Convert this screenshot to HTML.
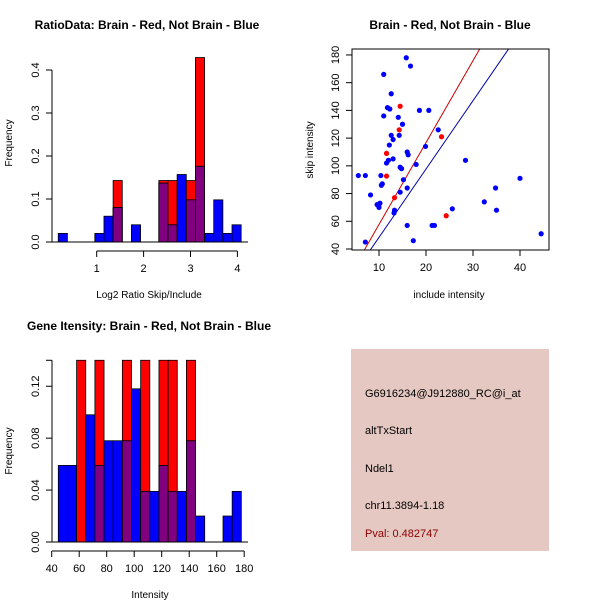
<!DOCTYPE html>
<html><head><meta charset="utf-8"><style>
body{margin:0;background:#fff;}
svg{display:block;font-family:"Liberation Sans",Arial,sans-serif;}
</style></head><body>
<svg id="c" width="600" height="600" viewBox="0 0 600 600">
<rect x="351" y="349" width="198" height="202" fill="#e5c8c2"/>
<g font-size="11">
<text x="365" y="397" fill="#000">G6916234@J912880_RC@i_at</text>
<text x="365" y="434" fill="#000">altTxStart</text>
<text x="365" y="472" fill="#000">Ndel1</text>
<text x="365" y="509" fill="#000">chr11.3894-1.18</text>
<text x="365" y="537" fill="#8b0000">Pval: 0.482747</text>
</g>
</svg>
<script>
// Ratio histogram data
const ratioBreakStart = 0.18, ratioBinW = 0.195;
const ratioRed = [0,0,0,0,0,0,0.143,0,0,0,0,0.143,0.143,0,0.143,0.429,0,0,0,0];
const ratioBlue = [0.02,0,0,0,0.02,0.06,0.08,0,0.04,0,0,0.137,0.04,0.157,0.098,0.176,0.02,0.098,0.02,0.04];
const ratioYTicks = [0,0.1,0.2,0.3,0.4];
const ratioXTicks = [1,2,3,4];
// Gene intensity histogram data
const geneBreakStart = 44.8, geneBinW = 6.655;
const geneRed = [0,0,0.14,0,0.14,0,0,0.14,0,0.14,0,0.14,0.14,0,0.14,0,0,0,0,0];
const geneBlue = [0.059,0.059,0,0.098,0.059,0.078,0.078,0.078,0.118,0.039,0.039,0.059,0.039,0.039,0.078,0.02,0,0,0.02,0.039];
const geneYTicks = [0,0.04,0.08,0.12];
const geneXTicks = [40,60,80,100,120,140,160,180];
// Scatter data
const blueX = [5.6,7.1,7.1,8.2,9.6,10,10.2,10.4,10.5,10.7,11,11,11.8,12.3,12.6,12.6,12.2,11.6,12,13,13,13.3,13.2,14.1,14.3,14.5,14.8,14.5,15,15.2,15.8,16.7,16,16.2,16,16,17.3,17.9,18.6,19.9,20.6,21.3,21.8,22.6,25.6,28.4,32.4,34.8,35,40,44.5];
const blueY = [93,93,45,79,72,70,73,93,86,87,166,136,142,141,152,122,115,102,104,105,119,68,66,135,122,99,98,81,130,90,178,172,110,108,84,57,46,101,140,114,140,57,57,126,69,104,74,84,68,91,51];
const redX = [11.6,11.6,13.3,14.5,14.3,23.3,24.3];
const redY = [109,92.6,77,143,126,121,64];
const lineIntercepts = [-1.4,-0.9];
const lineSlopes = [5.91,4.93];
const scatterXTicks = [10,20,30,40];
const scatterYTicks = [40,60,80,100,120,140,160,180];

const svg = document.getElementById('c');
const NS = 'http://www.w3.org/2000/svg';
function el(tag, attrs, parent){const e=document.createElementNS(NS,tag);for(const k in attrs)e.setAttribute(k,attrs[k]);(parent||svg).appendChild(e);return e;}
function txt(x,y,s,attrs,parent){const t=el('text',Object.assign({x:x,y:y},attrs||{}),parent);t.textContent=s;return t;}

function hist(cfg){
  const g=el('g',{});
  
  
  const sx=v=>cfg.x0px+(v-cfg.x0)*cfg.pxPerX;
  const sy=v=>cfg.base-v*cfg.pxPerY;
  for(let i=0;i<cfg.red.length;i++){
    const a=sx(cfg.bs+i*cfg.bw), b=sx(cfg.bs+(i+1)*cfg.bw);
    const r=cfg.red[i], bl=cfg.blue[i], m=Math.min(r,bl);
    if(r>0){const e=el('rect',{x:a,y:sy(r),width:b-a,height:sy(0)-sy(r),fill:'#ff0000',stroke:'#000','stroke-width':0.8},g);
      
      }
    if(bl>0){const e=el('rect',{x:a,y:sy(bl),width:b-a,height:sy(0)-sy(bl),fill:'#0000ff',stroke:'#000','stroke-width':0.8},g);
      
      }
    if(m>0){const e=el('rect',{x:a,y:sy(m),width:b-a,height:sy(0)-sy(m),fill:'#800080',stroke:'#000','stroke-width':0.8},g);
      
      }
  }
  el('line',{x1:cfg.axL,x2:cfg.axR,y1:cfg.base,y2:cfg.base,stroke:'#000'},g);
  const yt=cfg.yTicks;
  el('line',{x1:cfg.axL,x2:cfg.axL,y1:sy(yt[0]),y2:sy(cfg.yTop),stroke:'#000'},g);
  el('line',{x1:cfg.axL-6,x2:cfg.axL,y1:sy(cfg.yTop),y2:sy(cfg.yTop),stroke:'#000'},g);
  yt.forEach(v=>{el('line',{x1:cfg.axL-6,x2:cfg.axL,y1:sy(v),y2:sy(v),stroke:'#000'},g);
    const t=txt(cfg.axL-13,sy(v),cfg.fmt(v),{'font-size':11,'text-anchor':'middle',transform:`rotate(-90 ${cfg.axL-13} ${sy(v)})`},g);
    
    });
  const xt=cfg.xTicks;
  el('line',{x1:sx(xt[0]),x2:sx(xt[xt.length-1]),y1:cfg.xAxY,y2:cfg.xAxY,stroke:'#000'},g);
  xt.forEach(v=>{el('line',{x1:sx(v),x2:sx(v),y1:cfg.xAxY,y2:cfg.xAxY+6,stroke:'#000'},g);
    const t=txt(sx(v),cfg.xAxY+21,String(v),{'font-size':11,'text-anchor':'middle'},g);
    
    });
}
hist({name:'ratio-histogram',red:ratioRed,blue:ratioBlue,bs:ratioBreakStart,bw:ratioBinW,x0:1,x0px:96.7,pxPerX:46.9,base:242,pxPerY:430,axL:52,axR:248,yTicks:ratioYTicks,yTop:0.4,xTicks:ratioXTicks,xAxY:251,fmt:v=>v.toFixed(1)});
hist({name:'gene-histogram',red:geneRed,blue:geneBlue,bs:geneBreakStart,bw:geneBinW,x0:40,x0px:51.7,pxPerX:1.375,base:542,pxPerY:1298,axL:52,axR:248,yTicks:geneYTicks,yTop:0.14,xTicks:geneXTicks,xAxY:551,fmt:v=>v.toFixed(2)});

// Scatter
const sg=el('g',{});


const px=v=>379+(v-10)*4.7, py=v=>249-(v-40)*1.386;
const cp=el('clipPath',{id:'cp'},sg); el('rect',{x:352,y:49,width:197,height:201},cp);
lineIntercepts.forEach((a,i)=>{const b=lineSlopes[i];
  const l=el('line',{x1:px(0),y1:py(a),x2:px(50),y2:py(a+b*50),stroke:i===0?'#cc0000':'#0000aa','stroke-width':1,'clip-path':'url(#cp)'},sg);
  
  });
blueX.forEach((x,i)=>{const c=el('circle',{cx:px(x),cy:py(blueY[i]),r:2.6,fill:'#0000ff'},sg);
  
  });
redX.forEach((x,i)=>{const c=el('circle',{cx:px(x),cy:py(redY[i]),r:2.6,fill:'#ff0000'},sg);
  
  });
el('rect',{x:352,y:49,width:197,height:201,fill:'none',stroke:'#000'},sg);
scatterYTicks.forEach(v=>{el('line',{x1:346,x2:352,y1:py(v),y2:py(v),stroke:'#000'},sg);
  const t=txt(339,py(v),String(v),{'font-size':11,'text-anchor':'middle',transform:`rotate(-90 339 ${py(v)})`},sg);
  
  });
scatterXTicks.forEach(v=>{el('line',{x1:px(v),x2:px(v),y1:250,y2:256,stroke:'#000'},sg);
  const t=txt(px(v),271,String(v),{'font-size':11,'text-anchor':'middle'},sg);
  
  });

function lab(x,y,s,name,attrs){const t=txt(x,y,s,attrs);}
lab(147,29,'RatioData: Brain - Red, Not Brain - Blue','ratio-title',{'font-size':12,'font-weight':'bold','text-anchor':'middle'});
lab(450,29,'Brain - Red, Not Brain - Blue','scatter-title',{'font-size':12,'font-weight':'bold','text-anchor':'middle'});
lab(149,330,'Gene Itensity: Brain - Red, Not Brain - Blue','gene-title',{'font-size':12,'font-weight':'bold','text-anchor':'middle'});
lab(149,298,'Log2 Ratio Skip/Include','ratio-x-title',{'font-size':10,'text-anchor':'middle'});
lab(449,298,'include intensity','scatter-x-title',{'font-size':10,'text-anchor':'middle'});
lab(150,598,'Intensity','gene-x-title',{'font-size':10,'text-anchor':'middle'});
lab(12,143,'Frequency','ratio-y-title',{'font-size':10,'text-anchor':'middle',transform:'rotate(-90 12 143)'});
lab(12,451,'Frequency','gene-y-title',{'font-size':10,'text-anchor':'middle',transform:'rotate(-90 12 451)'});
lab(313,150,'skip intensity','scatter-y-title',{'font-size':10,'text-anchor':'middle',transform:'rotate(-90 313 150)'});
</script>
</body></html>
